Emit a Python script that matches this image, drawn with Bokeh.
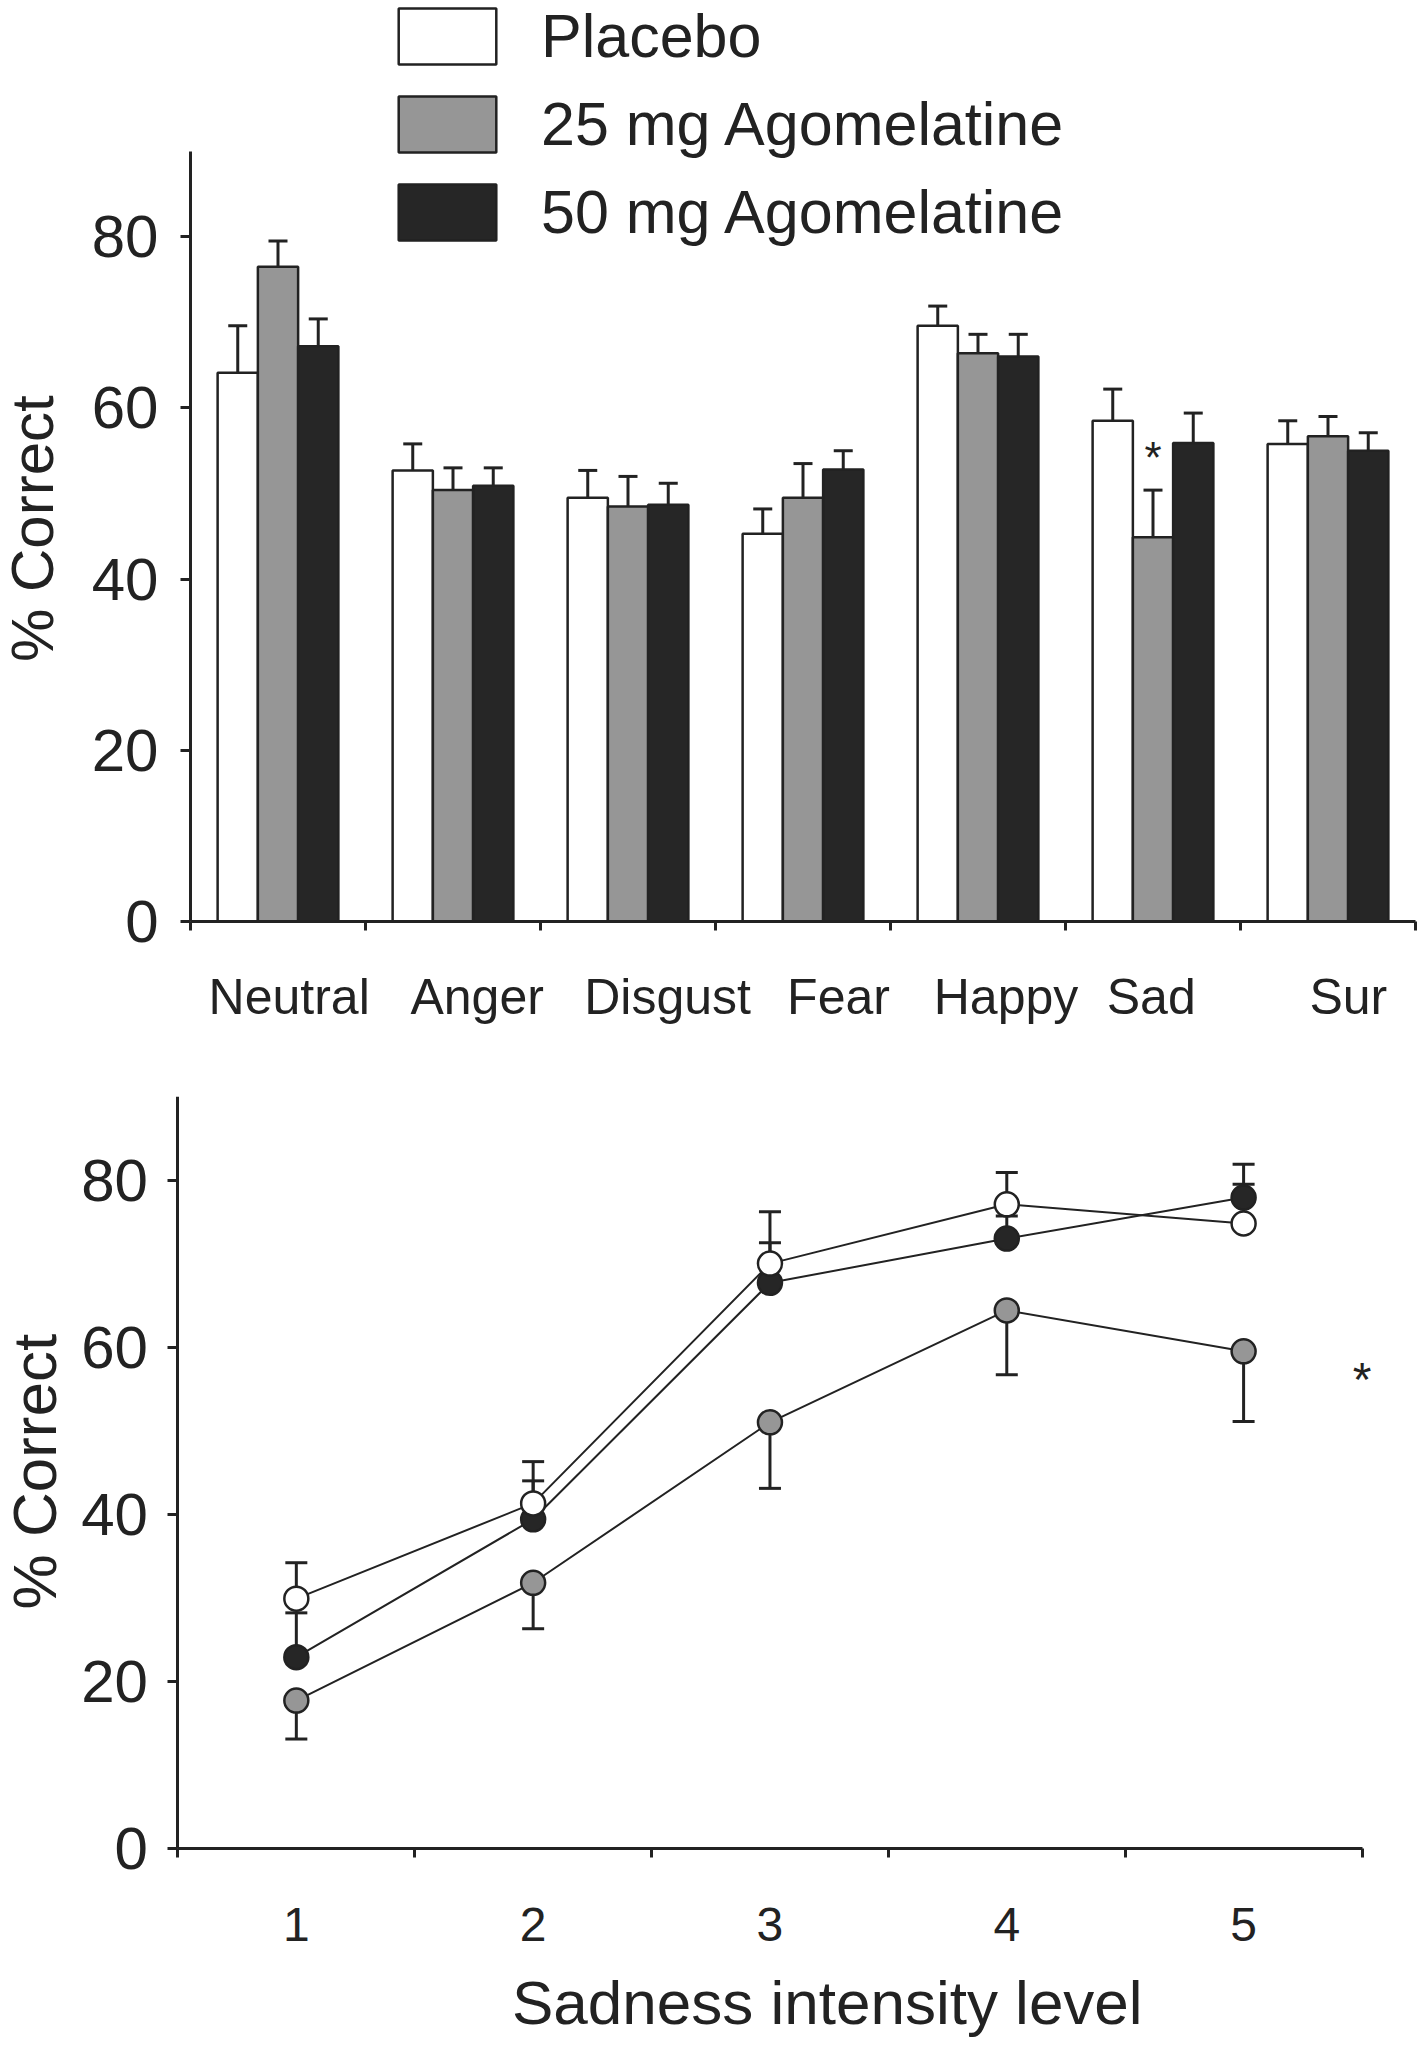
import numpy as np
from bokeh.plotting import figure
from bokeh.models import (Range1d, FixedTicker, Whisker, TeeHead, ColumnDataSource,
                          Legend, LegendItem)
from bokeh.core.properties import value
from bokeh.embed import file_html
from bokeh.resources import INLINE

# ---------------- data: top panel (emotion recognition) ----------------
emotions = ["Neutral", "Anger", "Disgust", "Fear", "Happy", "Sad", "Sur"]
series_names = ["Placebo", "25 mg Agomelatine", "50 mg Agomelatine"]
placebo_pct = [64.1, 52.7, 49.5, 45.3, 69.6, 58.5, 55.8]
placebo_sem = [5.5, 3.1, 3.2, 2.9, 2.3, 3.7, 2.7]
ago25_pct = [76.5, 50.4, 48.5, 49.5, 66.4, 44.9, 56.7]
ago25_sem = [3.0, 2.6, 3.5, 4.0, 2.2, 5.5, 2.3]
ago50_pct = [67.2, 50.9, 48.7, 52.8, 66.0, 55.9, 55.0]
ago50_sem = [3.2, 2.1, 2.5, 2.2, 2.6, 3.5, 2.1]
top_star_emotion = "Sad"      # significant difference: 25 mg vs placebo
top_star_series = 1
y_ticks = [0, 20, 40, 60, 80]
y_title = "% Correct"

# ---------------- data: bottom panel (sadness intensity) ----------------
levels = [1, 2, 3, 4, 5]
placebo_lvl = [29.9, 41.3, 70.0, 77.1, 74.8]
placebo_lvl_sem = [4.3, 5.0, 6.2, 3.8, 4.7]
ago25_lvl = [17.7, 31.8, 51.0, 64.4, 59.5]
ago25_lvl_sem = [4.6, 5.5, 7.9, 7.7, 8.4]
ago50_lvl = [22.9, 39.4, 67.7, 73.0, 77.9]
ago50_lvl_sem = [5.3, 4.6, 4.8, 2.7, 4.0]
bottom_star = (5.5, 52.9)
x_title = "Sadness intensity level"

# ---------------- styles / layout constants ----------------
FONT = "Liberation Sans"
INK = "#222222"
FILLS = ["#ffffff", "#969696", "#262626"]
BAR_W = 0.23
STAR_GAP = 0.9
label_shift = [0.064, 0.138, 0.226, 0.203, 0.16, -0.01, 0.116]   # label offsets (category units)
top_ytitle_pos = (-0.903, 45.9)     # anchor x, centre y (data units)
bot_ytitle_pos = (-0.106, 45.1)
bot_xtitle_pos = (3.242, -18.4)


def style_axis(ax, label_size, tick_out, standoff, lw=3):
    ax.axis_line_color = INK
    ax.axis_line_width = lw
    ax.major_tick_line_color = INK
    ax.major_tick_line_width = lw
    ax.minor_tick_line_color = INK
    ax.minor_tick_line_width = lw
    ax.major_tick_out = tick_out
    ax.major_tick_in = 0
    ax.minor_tick_in = 0
    ax.minor_tick_out = 0
    ax.major_label_text_font = FONT
    ax.major_label_text_font_size = label_size
    ax.major_label_text_color = INK
    ax.major_label_standoff = standoff


# ================= top figure =================
p1 = figure(width=1420, height=1040, x_range=Range1d(-1.0857, 7.0286), y_range=Range1d(-13.9, 107.6),
            output_backend="svg", toolbar_location=None,
            min_border_left=0, min_border_right=0, min_border_top=0, min_border_bottom=0)
p1.outline_line_color = None
p1.xgrid.visible = False
p1.ygrid.visible = False
p1.background_fill_color = None

centers = np.arange(len(emotions)) + 0.5
vals = [placebo_pct, ago25_pct, ago50_pct]
sems = [placebo_sem, ago25_sem, ago50_sem]
renderers = []
for k in range(3):
    xs = centers + (k - 1) * BAR_W
    top = np.array(vals[k])
    up = top + np.array(sems[k])
    src = ColumnDataSource(dict(x=xs, top=top, up=up))
    p1.add_layout(Whisker(source=src, base="x", lower="top", upper="up",
                          line_color=INK, line_width=3,
                          upper_head=TeeHead(size=19, line_color=INK, line_width=3),
                          lower_head=None))
    r = p1.vbar(x="x", top="top", bottom=0, width=BAR_W, source=src,
                fill_color=FILLS[k], line_color=INK, line_width=2.5)
    renderers.append(r)

si = emotions.index(top_star_emotion)
star_x = centers[si] + (top_star_series - 1) * BAR_W
star_y = vals[top_star_series][si] + sems[top_star_series][si] + STAR_GAP
p1.text(x=[star_x], y=[star_y], text=["*"], text_font=value(FONT), text_font_size="44px",
        text_align="center", text_baseline="bottom", text_color=INK)

label_pos = [round(c + s, 3) for c, s in zip(centers, label_shift)]
style_axis(p1.xaxis[0], "50px", 0, 38)
p1.xaxis[0].ticker = FixedTicker(ticks=label_pos, minor_ticks=list(range(len(emotions) + 1)))
p1.xaxis[0].minor_tick_out = 9
p1.xaxis[0].major_label_overrides = {pos: name for pos, name in zip(label_pos, emotions)}
p1.xaxis[0].bounds = (0, 7)
p1.xaxis[0].fixed_location = 0

style_axis(p1.yaxis[0], "60px", 10, 22)
p1.yaxis[0].ticker = FixedTicker(ticks=y_ticks, minor_ticks=[])
p1.yaxis[0].bounds = (0, 90)
p1.yaxis[0].fixed_location = 0
p1.text(x=[top_ytitle_pos[0]], y=[top_ytitle_pos[1]], text=[y_title], angle=np.pi / 2,
        text_font=value(FONT), text_font_size="60px", text_align="center",
        text_baseline="alphabetic", text_color=INK)

legend = Legend(items=[LegendItem(label=n, renderers=[r]) for n, r in zip(series_names, renderers)],
                location=(386, 1040 - 248), orientation="vertical",
                glyph_width=122, glyph_height=70, label_height=72, spacing=16,
                padding=0, margin=0, label_standoff=33,
                label_text_font=FONT, label_text_font_size="61px", label_text_color=INK,
                border_line_color=None, background_fill_alpha=0)
p1.add_layout(legend)

# ================= bottom figure =================
p2 = figure(width=1420, height=1006, x_range=Range1d(-0.2492, 5.747), y_range=Range1d(-23.7, 90),
            output_backend="svg", toolbar_location=None,
            min_border_left=0, min_border_right=0, min_border_top=56, min_border_bottom=0)
p2.outline_line_color = None
p2.xgrid.visible = False
p2.ygrid.visible = False
p2.background_fill_color = None

lvl_vals = [placebo_lvl, ago25_lvl, ago50_lvl]
lvl_sems = [placebo_lvl_sem, ago25_lvl_sem, ago50_lvl_sem]
err_up = [True, False, True]
for k in range(3):
    p2.line(levels, lvl_vals[k], line_color=INK, line_width=2)
for k in range(3):
    v = np.array(lvl_vals[k])
    e = np.array(lvl_sems[k])
    if err_up[k]:
        lo, hi = v, v + e
        uh, lh = TeeHead(size=22, line_color=INK, line_width=3), None
    else:
        lo, hi = v - e, v
        uh, lh = None, TeeHead(size=22, line_color=INK, line_width=3)
    src = ColumnDataSource(dict(x=levels, lo=lo, hi=hi))
    p2.add_layout(Whisker(source=src, base="x", lower="lo", upper="hi",
                          line_color=INK, line_width=3, upper_head=uh, lower_head=lh))
for k in [1, 2, 0]:
    p2.scatter(levels, lvl_vals[k], size=24, marker="circle",
               fill_color=FILLS[k], line_color=INK, line_width=2.5)

p2.text(x=[bottom_star[0]], y=[bottom_star[1]], text=["*"], text_font=value(FONT),
        text_font_size="48px", text_align="center", text_baseline="bottom", text_color=INK)

style_axis(p2.xaxis[0], "48px", 0, 51)
p2.xaxis[0].ticker = FixedTicker(ticks=levels, minor_ticks=[l - 0.5 for l in levels] + [levels[-1] + 0.5])
p2.xaxis[0].minor_tick_out = 9
p2.xaxis[0].bounds = (0.5, 5.5)
p2.xaxis[0].fixed_location = 0
p2.text(x=[bot_xtitle_pos[0]], y=[bot_xtitle_pos[1]], text=[x_title],
        text_font=value(FONT), text_font_size="62px", text_align="center",
        text_baseline="alphabetic", text_color=INK)

style_axis(p2.yaxis[0], "60px", 10, 20)
p2.yaxis[0].ticker = FixedTicker(ticks=y_ticks, minor_ticks=[])
p2.yaxis[0].bounds = (0, 90)
p2.yaxis[0].fixed_location = 0.5
p2.text(x=[bot_ytitle_pos[0]], y=[bot_ytitle_pos[1]], text=[y_title], angle=np.pi / 2,
        text_font=value(FONT), text_font_size="62px", text_align="center",
        text_baseline="alphabetic", text_color=INK)

open("out.html", "w").write(file_html([p1, p2], INLINE))
